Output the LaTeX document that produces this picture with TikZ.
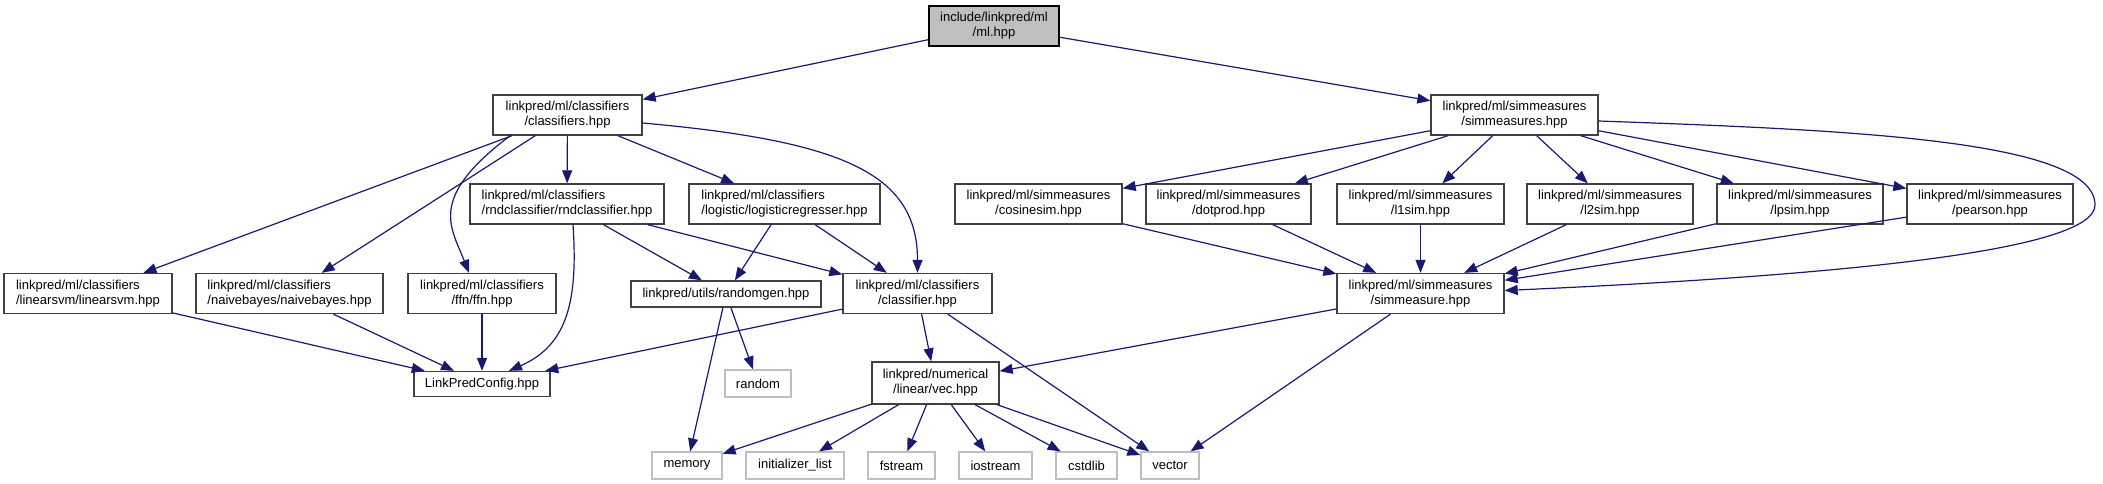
\documentclass[tikz,border=0pt]{standalone}
\usepackage{fontspec}
\setmainfont{Liberation Sans}
\usetikzlibrary{arrows.meta}
\definecolor{cedge}{HTML}{191970}
\definecolor{cframe}{HTML}{404040}
\definecolor{cgrey}{HTML}{BFBFBF}
\tikzset{
  every picture/.style={font=\fontsize{13}{15}\selectfont},
  file/.style={draw=cframe, fill=white, line width=1.3pt, inner sep=0pt, minimum width=#1, minimum height=40pt, align=center},
  file/.default=150pt,
  sys/.style={draw=cgrey, fill=white, line width=1.3pt, inner sep=0pt, minimum width=#1, minimum height=27pt},
  dep/.style={-{Triangle[length=13pt, width=10pt]}, draw=cedge, line width=1.2pt},
}

\begin{document}
\begin{tikzpicture}[x=1pt, y=-1pt]
  \useasboundingbox (0,0) rectangle (2103,484);
  % top
  \node[file=130pt, draw=black, fill=cgrey] (ml) at (994,26) {include/linkpred/ml\\/ml.hpp};
  \node[file=149pt] (classifiers) at (567.5,115) {linkpred/ml/classifiers\\/classifiers.hpp};
  \node[file=167pt] (simmeasures) at (1514.5,115) {linkpred/ml/simmeasures\\/simmeasures.hpp};
  % second row
  \node[file=194pt, align=left] (rndclassifier) at (567,204) {linkpred/ml/classifiers\\/rndclassifier/rndclassifier.hpp};
  \node[file=191pt, align=left] (logistic) at (784.5,204) {linkpred/ml/classifiers\\/logistic/logisticregresser.hpp};
  \node[file=167pt] (cosinesim) at (1038.5,204) {linkpred/ml/simmeasures\\/cosinesim.hpp};
  \node[file=165pt] (dotprod) at (1228.5,204) {linkpred/ml/simmeasures\\/dotprod.hpp};
  \node[file=167pt] (lonesim) at (1420.5,204) {linkpred/ml/simmeasures\\/l1sim.hpp};
  \node[file=166pt] (ltwosim) at (1610,204) {linkpred/ml/simmeasures\\/l2sim.hpp};
  \node[file=166pt] (lpsim) at (1800,204) {linkpred/ml/simmeasures\\/lpsim.hpp};
  \node[file=166pt] (pearson) at (1990,204) {linkpred/ml/simmeasures\\/pearson.hpp};
  % third row
  \node[file=168pt, align=left] (linearsvm) at (88,293.5) {linkpred/ml/classifiers\\/linearsvm/linearsvm.hpp};
  \node[file=187pt, align=left] (naivebayes) at (289.5,293.5) {linkpred/ml/classifiers\\/naivebayes/naivebayes.hpp};
  \node[file=148pt] (ffn) at (482,293.5) {linkpred/ml/classifiers\\/ffn/ffn.hpp};
  \node[file=190pt, minimum height=26pt] (randomgen) at (726,294) {linkpred/utils/randomgen.hpp};
  \node[file=149pt] (classifier) at (917.5,293.5) {linkpred/ml/classifiers\\/classifier.hpp};
  \node[file=167pt] (simmeasure) at (1420.5,293.5) {linkpred/ml/simmeasures\\/simmeasure.hpp};
  % fourth row
  \node[file=136pt, minimum height=25pt] (config) at (482,384) {LinkPredConfig.hpp};
  \node[sys=66pt] (random) at (758,383.5) {random};
  \node[file=127pt, minimum height=42pt] (vec) at (935.5,383) {linkpred/numerical\\/linear/vec.hpp};
  % system headers
  \node[sys=70pt] (memory) at (687,465.5) {memory};
  \node[sys=98pt] (initlist) at (795,465.5) {initializer\_list};
  \node[sys=67pt] (fstream) at (901.5,465.5) {fstream};
  \node[sys=73pt] (iostream) at (995.5,465.5) {iostream};
  \node[sys=61pt] (cstdlib) at (1086.5,465.5) {cstdlib};
  \node[sys=58pt] (vector) at (1170,465.5) {vector};

  % edges from ml.hpp
  \draw[dep] (ml) -- (classifiers);
  \draw[dep] (ml) -- (simmeasures);
  % classifiers
  \draw[dep] (classifiers) -- (linearsvm);
  \draw[dep] (classifiers) -- (naivebayes);
  \draw[dep] ([xshift=18pt]classifiers.south west) .. controls (427,198) and (451,227) .. ([xshift=-13pt]ffn.north);
  \draw[dep] (classifiers) -- (rndclassifier);
  \draw[dep] (classifiers) -- (logistic);
  \draw[dep] ([yshift=-8pt]classifiers.east) .. controls (842,141) and (917.5,173) .. (classifier.north);
  \draw[dep] ([xshift=6pt]rndclassifier.south) .. controls (578,300) and (568,345) .. ([xshift=27pt]config.north);
  \draw[dep] (rndclassifier) -- (randomgen);
  \draw[dep] (rndclassifier) -- (classifier);
  \draw[dep] (logistic) -- (randomgen);
  \draw[dep] (logistic) -- (classifier);
  \draw[dep] (linearsvm) -- (config);
  \draw[dep] (naivebayes) -- (config);
  \draw[dep] (ffn) -- (config);
  \draw[dep] (classifier) -- (config);
  \draw[dep] (classifier) -- (vec);
  \draw[dep] (classifier) -- (vector);
  \draw[dep] (randomgen) -- (memory);
  \draw[dep] (randomgen) -- (random);
  % simmeasures
  \draw[dep] (simmeasures) -- (cosinesim);
  \draw[dep] (simmeasures) -- (dotprod);
  \draw[dep] (simmeasures) -- (lonesim);
  \draw[dep] (simmeasures) -- (ltwosim);
  \draw[dep] (simmeasures) -- (lpsim);
  \draw[dep] (simmeasures) -- (pearson);
  \coordinate (bend) at (2095,205);
  \draw[dep] ([yshift=-6pt]simmeasures.east) .. controls (1850,130) and (2095,140) .. (bend) .. controls (2095,250) and (1850,275) .. ([yshift=3pt]simmeasure.east);
  \draw[dep] (cosinesim) -- (simmeasure);
  \draw[dep] (dotprod) -- (simmeasure);
  \draw[dep] (lonesim) -- (simmeasure);
  \draw[dep] (ltwosim) -- (simmeasure);
  \draw[dep] (lpsim) -- (simmeasure);
  \draw[dep] (pearson) -- (simmeasure);
  \draw[dep] (simmeasure) -- (vec);
  \draw[dep] (simmeasure) -- (vector);
  % vec.hpp
  \draw[dep] (vec) -- (memory);
  \draw[dep] (vec) -- (initlist);
  \draw[dep] (vec) -- (fstream);
  \draw[dep] (vec) -- (iostream);
  \draw[dep] (vec) -- (cstdlib);
  \draw[dep] (vec) -- (vector);
\end{tikzpicture}
\end{document}
